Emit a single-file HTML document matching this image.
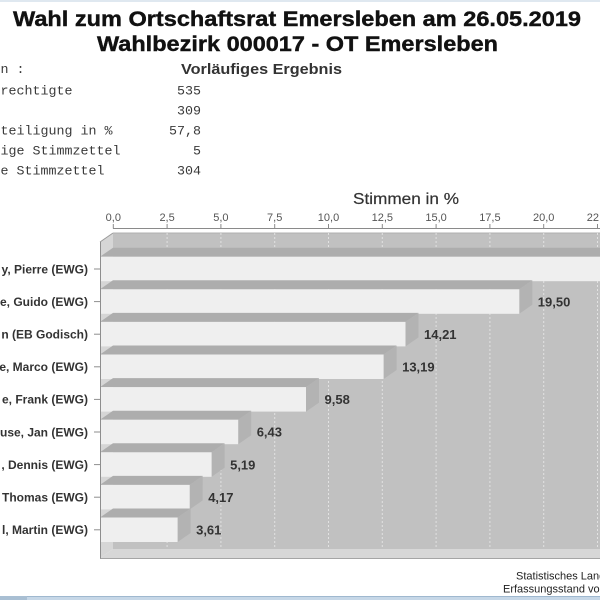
<!DOCTYPE html>
<html><head><meta charset="utf-8"><style>
html,body{margin:0;padding:0;background:#fff;width:600px;height:600px;overflow:hidden}
svg{display:block}
</style></head><body>
<svg width="600" height="600" viewBox="0 0 600 600" xmlns="http://www.w3.org/2000/svg">
<rect x="0" y="0" width="600" height="600" fill="#fff"/>
<rect x="0" y="0" width="600" height="2" fill="#dfe8f0"/>
<rect x="0" y="596" width="600" height="4" fill="#c6d7e7"/>
<rect x="0" y="596" width="600" height="1" fill="#9fb8cf"/>
<rect x="0" y="596" width="27" height="4" fill="#a9bfd3"/>

<!-- Titles -->
<g font-family="Liberation Sans, Arial, sans-serif" font-weight="bold" fill="#111">
<text x="13" y="26" font-size="21" stroke="#111" stroke-width="0.4" textLength="568" lengthAdjust="spacingAndGlyphs">Wahl zum Ortschaftsrat Emersleben am 26.05.2019</text>
<text x="97" y="51" font-size="21" stroke="#111" stroke-width="0.4" textLength="401" lengthAdjust="spacingAndGlyphs">Wahlbezirk 000017 - OT Emersleben</text>
<text x="181" y="74" font-size="14.5" fill="#333" textLength="161" lengthAdjust="spacingAndGlyphs">Vorläufiges Ergebnis</text>
</g>

<g font-family="Liberation Mono, Courier New, monospace" font-size="13.33" fill="#3a3a3a">
<text x="-47.5" y="73">Angaben :</text>
<text x="-47.5" y="94.5">Wahlberechtigte</text>
<text x="-47.5" y="114.5">Wähler</text>
<text x="-47.5" y="134.5">Wahlbeteiligung in %</text>
<text x="-47.5" y="154.5">ungültige Stimmzettel</text>
<text x="-47.5" y="174.5">gültige Stimmzettel</text>
<g text-anchor="end">
<text x="201" y="94.5">535</text>
<text x="201" y="114.5">309</text>
<text x="201" y="134.5">57,8</text>
<text x="201" y="154.5">5</text>
<text x="201" y="174.5">304</text>
</g>
</g>

<!-- Axis title -->
<text x="353" y="204" font-family="Liberation Sans, Arial, sans-serif" font-size="15.5" fill="#333" stroke="#333" stroke-width="0.2" textLength="106" lengthAdjust="spacingAndGlyphs">Stimmen in %</text>

<!-- Axis -->
<line x1="113" y1="228.5" x2="600" y2="228.5" stroke="#8a8a8a" stroke-width="1"/>
<g stroke="#8a8a8a" stroke-width="1">
<line x1="113.3" y1="224" x2="113.3" y2="228.5"/>
<line x1="167.1" y1="224" x2="167.1" y2="228.5"/>
<line x1="220.9" y1="224" x2="220.9" y2="228.5"/>
<line x1="274.7" y1="224" x2="274.7" y2="228.5"/>
<line x1="328.5" y1="224" x2="328.5" y2="228.5"/>
<line x1="382.3" y1="224" x2="382.3" y2="228.5"/>
<line x1="436.1" y1="224" x2="436.1" y2="228.5"/>
<line x1="489.9" y1="224" x2="489.9" y2="228.5"/>
<line x1="543.7" y1="224" x2="543.7" y2="228.5"/>
<line x1="597.5" y1="224" x2="597.5" y2="228.5"/>
</g>
<g font-family="Liberation Sans, Arial, sans-serif" font-size="11" fill="#555" text-anchor="middle">
<text x="113.3" y="221">0,0</text>
<text x="167.1" y="221">2,5</text>
<text x="220.9" y="221">5,0</text>
<text x="274.7" y="221">7,5</text>
<text x="328.5" y="221">10,0</text>
<text x="382.3" y="221">12,5</text>
<text x="436.1" y="221">15,0</text>
<text x="489.9" y="221">17,5</text>
<text x="543.7" y="221">20,0</text>
<text x="597.5" y="221">22,5</text>
</g>

<!-- Plot walls -->
<rect x="113" y="233" width="487" height="316" fill="#c1c1c1"/>
<polygon points="100,242 113,233 113,549 100,558" fill="#d6d6d6"/>
<polygon points="100,558 113,549 600,549 600,558" fill="#d7d7d7"/>
<line x1="100" y1="558.5" x2="600" y2="558.5" stroke="#a5a5a5" stroke-width="1"/>
<line x1="100" y1="242" x2="113" y2="233" stroke="#9a9a9a" stroke-width="1"/>
<line x1="113" y1="233" x2="600" y2="233" stroke="#b0b0b0" stroke-width="1"/>

<!-- Gridlines -->
<g stroke="#e2e2e2" stroke-width="1" stroke-dasharray="2,2">
<line x1="167.1" y1="233" x2="167.1" y2="549"/>
<line x1="220.9" y1="233" x2="220.9" y2="549"/>
<line x1="274.7" y1="233" x2="274.7" y2="549"/>
<line x1="328.5" y1="233" x2="328.5" y2="549"/>
<line x1="382.3" y1="233" x2="382.3" y2="549"/>
<line x1="436.1" y1="233" x2="436.1" y2="549"/>
<line x1="489.9" y1="233" x2="489.9" y2="549"/>
<line x1="543.7" y1="233" x2="543.7" y2="549"/>
<line x1="597.5" y1="233" x2="597.5" y2="549"/>
</g>

<!-- Bars -->
<g>
<polygon points="100,256.7 113,247.7 631.6,247.7 618.6,256.7" fill="#adadad"/>
<rect x="100" y="256.7" width="518.6" height="24.5" fill="#efefef"/>
<polygon points="100,289.3 113,280.3 532.3,280.3 519.3,289.3" fill="#adadad"/>
<polygon points="519.3,289.3 532.3,280.3 532.3,304.8 519.3,313.8" fill="#b3b3b3"/>
<rect x="100" y="289.3" width="419.3" height="24.5" fill="#efefef"/>
<polygon points="100,321.9 113,312.9 418.5,312.9 405.5,321.9" fill="#adadad"/>
<polygon points="405.5,321.9 418.5,312.9 418.5,337.4 405.5,346.4" fill="#b3b3b3"/>
<rect x="100" y="321.9" width="305.5" height="24.5" fill="#efefef"/>
<polygon points="100,354.5 113,345.5 396.6,345.5 383.6,354.5" fill="#adadad"/>
<polygon points="383.6,354.5 396.6,345.5 396.6,370 383.6,379" fill="#b3b3b3"/>
<rect x="100" y="354.5" width="283.6" height="24.5" fill="#efefef"/>
<polygon points="100,387.1 113,378.1 319,378.1 306,387.1" fill="#adadad"/>
<polygon points="306,387.1 319,378.1 319,402.6 306,411.6" fill="#b3b3b3"/>
<rect x="100" y="387.1" width="206" height="24.5" fill="#efefef"/>
<polygon points="100,419.7 113,410.7 251.2,410.7 238.2,419.7" fill="#adadad"/>
<polygon points="238.2,419.7 251.2,410.7 251.2,435.2 238.2,444.2" fill="#b3b3b3"/>
<rect x="100" y="419.7" width="138.2" height="24.5" fill="#efefef"/>
<polygon points="100,452.3 113,443.3 224.6,443.3 211.6,452.3" fill="#adadad"/>
<polygon points="211.6,452.3 224.6,443.3 224.6,467.8 211.6,476.8" fill="#b3b3b3"/>
<rect x="100" y="452.3" width="111.6" height="24.5" fill="#efefef"/>
<polygon points="100,484.9 113,475.9 202.7,475.9 189.7,484.9" fill="#adadad"/>
<polygon points="189.7,484.9 202.7,475.9 202.7,500.4 189.7,509.4" fill="#b3b3b3"/>
<rect x="100" y="484.9" width="89.7" height="24.5" fill="#efefef"/>
<polygon points="100,517.5 113,508.5 190.6,508.5 177.6,517.5" fill="#adadad"/>
<polygon points="177.6,517.5 190.6,508.5 190.6,533 177.6,542" fill="#b3b3b3"/>
<rect x="100" y="517.5" width="77.6" height="24.5" fill="#efefef"/>
</g>

<line x1="100.5" y1="242" x2="100.5" y2="558.5" stroke="#8e8e8e" stroke-width="1"/>

<g stroke="#8e8e8e" stroke-width="1">
<line x1="94" y1="269" x2="100" y2="269"/>
<line x1="94" y1="301.6" x2="100" y2="301.6"/>
<line x1="94" y1="334.2" x2="100" y2="334.2"/>
<line x1="94" y1="366.8" x2="100" y2="366.8"/>
<line x1="94" y1="399.4" x2="100" y2="399.4"/>
<line x1="94" y1="432" x2="100" y2="432"/>
<line x1="94" y1="464.6" x2="100" y2="464.6"/>
<line x1="94" y1="497.2" x2="100" y2="497.2"/>
<line x1="94" y1="529.8" x2="100" y2="529.8"/>
</g>

<g font-family="Liberation Sans, Arial, sans-serif" font-size="12" font-weight="bold" fill="#333" text-anchor="end">
<text x="88" y="273.3">y, Pierre (EWG)</text>
<text x="88" y="305.9">e, Guido (EWG)</text>
<text x="88" y="338.5">n (EB Godisch)</text>
<text x="88" y="371.1">e, Marco (EWG)</text>
<text x="88" y="403.7">e, Frank (EWG)</text>
<text x="88" y="436.3">use, Jan (EWG)</text>
<text x="88" y="468.9">, Dennis (EWG)</text>
<text x="88" y="501.5">Thomas (EWG)</text>
<text x="88" y="534.1">l, Martin (EWG)</text>
</g>

<g font-family="Liberation Sans, Arial, sans-serif" font-size="13" font-weight="bold" fill="#333">
<text x="537.8" y="306.3">19,50</text>
<text x="424" y="338.9">14,21</text>
<text x="402.1" y="371.5">13,19</text>
<text x="324.5" y="404.1">9,58</text>
<text x="256.7" y="436.7">6,43</text>
<text x="230.1" y="469.3">5,19</text>
<text x="208.2" y="501.9">4,17</text>
<text x="196.1" y="534.5">3,61</text>
</g>

<g font-family="Liberation Sans, Arial, sans-serif" font-size="11" fill="#222">
<text x="516" y="579.5">Statistisches Landesamt</text>
<text x="503" y="592.5">Erfassungsstand vom</text>
</g>
</svg>
</body></html>
